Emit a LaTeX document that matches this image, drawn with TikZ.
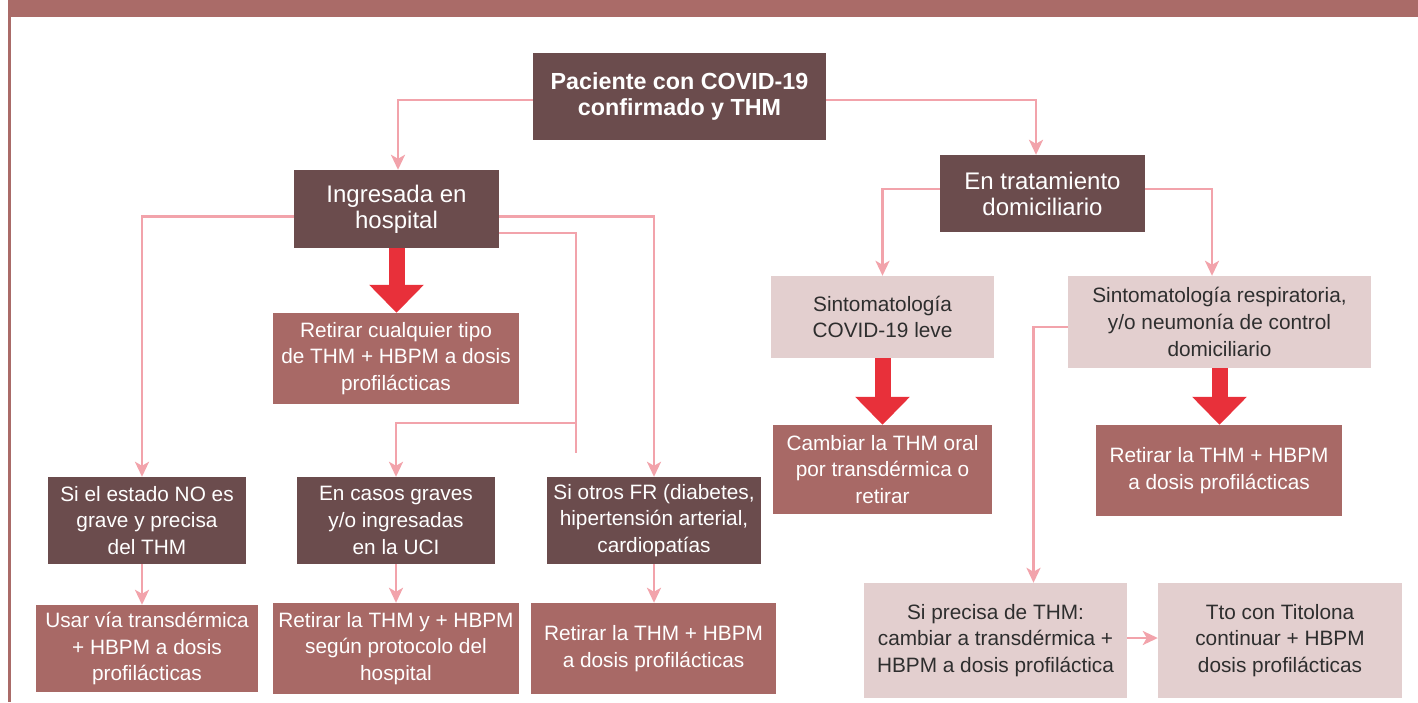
\documentclass[tikz,border=0pt]{standalone}
\usepackage{fontspec}
\setmainfont{Liberation Sans}
\usetikzlibrary{arrows.meta,calc}
\definecolor{dkbrown}{HTML}{6B4C4D}
\definecolor{mdbrown}{HTML}{A86966}
\definecolor{ltpink}{HTML}{E3CFCF}
\definecolor{pinkline}{HTML}{F2A3AB}
\definecolor{redarr}{HTML}{E8303A}
\definecolor{barcol}{HTML}{AA6B68}
\definecolor{darktext}{HTML}{2E2E2E}
\begin{document}
\begin{tikzpicture}[x=1pt,y=-1pt,
  base/.style={rectangle, inner sep=0pt, align=center, font=\fontsize{20.8}{26.8}\selectfont},
  dark/.style={base, fill=dkbrown, text=white},
  mid/.style={base, fill=mdbrown, text=white},
  light/.style={base, fill=ltpink, text=darktext},
  sz/.style 2 args={minimum width=#1pt, minimum height=#2pt},
  linkarrow/.style={draw=pinkline, line width=2.7pt, -{Stealth[length=15pt,width=14pt,inset=4pt]}},
  plainline/.style={draw=pinkline, line width=2.7pt},
  bigarrow/.style={draw=redarr, line width=16pt, -{Triangle[width=53pt,length=28pt]}}]
\useasboundingbox (0,0) rectangle (1418,702);
\fill[barcol] (8,0) rectangle (1418,17);
\fill[barcol] (8,17) rectangle (11,702);

% nodes
\node[dark, sz={293}{87}, font=\fontsize{23.3}{26.5}\selectfont\bfseries] (top) at (679.5,96.5) {Paciente con COVID-19\\confirmado y THM};
\node[dark, sz={205}{78}, font=\fontsize{24}{26}\selectfont] (ing) at (396.5,209) {Ingresada en\\hospital};
\node[dark, sz={205}{77}, font=\fontsize{24}{26}\selectfont] (entr) at (1042.5,193.5) {En tratamiento\\domiciliario};
\node[mid, sz={246}{91}] (retC) at (396,358.5) {Retirar cualquier tipo\\de THM + HBPM a dosis\\profilácticas};
\node[dark, sz={198}{87}] (estado) at (147,520.5) {Si el estado NO es\\grave y precisa\\del THM};
\node[dark, sz={198}{87}] (graves) at (396,520.5) {En casos graves\\y/o ingresadas\\en la UCI};
\node[dark, sz={214}{87}] (otros) at (654,520.5) {Si otros FR (diabetes,\\hipertensión arterial,\\cardiopatías};
\node[mid, sz={222}{87}] (usar) at (147,648.5) {Usar vía transdérmica\\+ HBPM a dosis\\profilácticas};
\node[mid, sz={246}{91}] (retY) at (396,648.5) {Retirar la THM y + HBPM\\según protocolo del\\hospital};
\node[mid, sz={245}{91}] (retL) at (653.5,648.5) {Retirar la THM + HBPM\\a dosis profilácticas};
\node[light, sz={223}{82}] (leve) at (882.5,317) {Sintomatología\\COVID-19 leve};
\node[mid, sz={219}{89}] (cambiar) at (882.5,469.5) {Cambiar la THM oral\\por transdérmica o\\retirar};
\node[light, sz={303}{92}] (resp) at (1219.5,322) {Sintomatología respiratoria,\\y/o neumonía de control\\domiciliario};
\node[mid, sz={246}{91}] (retR) at (1219,470.5) {Retirar la THM + HBPM\\a dosis profilácticas};
\node[light, sz={263}{115}] (precisa) at (995.5,640.5) {Si precisa de THM:\\cambiar a transdérmica +\\HBPM a dosis profiláctica};
\node[light, sz={244}{115}] (tto) at (1280,640.5) {Tto con Titolona\\continuar + HBPM\\dosis profilácticas};

% connectors
\draw[linkarrow] ([yshift=-3.5pt]top.west) -| ([xshift=1.5pt]ing.north);
\draw[linkarrow] ([yshift=-3.5pt]top.east) -| ([xshift=-6.5pt]entr.north);
\draw[linkarrow] ([yshift=-7.7pt]ing.west) -| ([xshift=-5pt]estado.north);
\draw[linkarrow] ([yshift=-7.7pt]ing.east) -| (otros.north);
\coordinate (j1) at (576,423);
\coordinate (j2) at (576,453);
\draw[plainline] ([yshift=-24pt]ing.east) -| (j2);
\draw[linkarrow] (j1) -| (graves.north);
\draw[linkarrow] ([xshift=-5pt]estado.south) -- ([xshift=-5pt]usar.north);
\draw[linkarrow] (graves.south) -- (retY.north);
\draw[linkarrow] (otros.south) -- (otros.south |- retL.north);
\draw[linkarrow] ([yshift=4.5pt]entr.west) -| (leve.north);
\draw[linkarrow] ([yshift=4.5pt]entr.east) -| ([xshift=-7.5pt]resp.north);
\draw[linkarrow] ([yshift=-5pt]resp.west) -| ([xshift=38pt]precisa.north);
\draw[linkarrow] ([yshift=2.5pt]precisa.east) -- ([yshift=2.5pt]precisa.east -| tto.west);

% big red arrows
\draw[bigarrow] (ing.south) -- (ing.south |- retC.north);
\draw[bigarrow] (leve.south) -- (cambiar.north);
\draw[bigarrow] (resp.south) -- (resp.south |- retR.north);
\end{tikzpicture}
\end{document}
